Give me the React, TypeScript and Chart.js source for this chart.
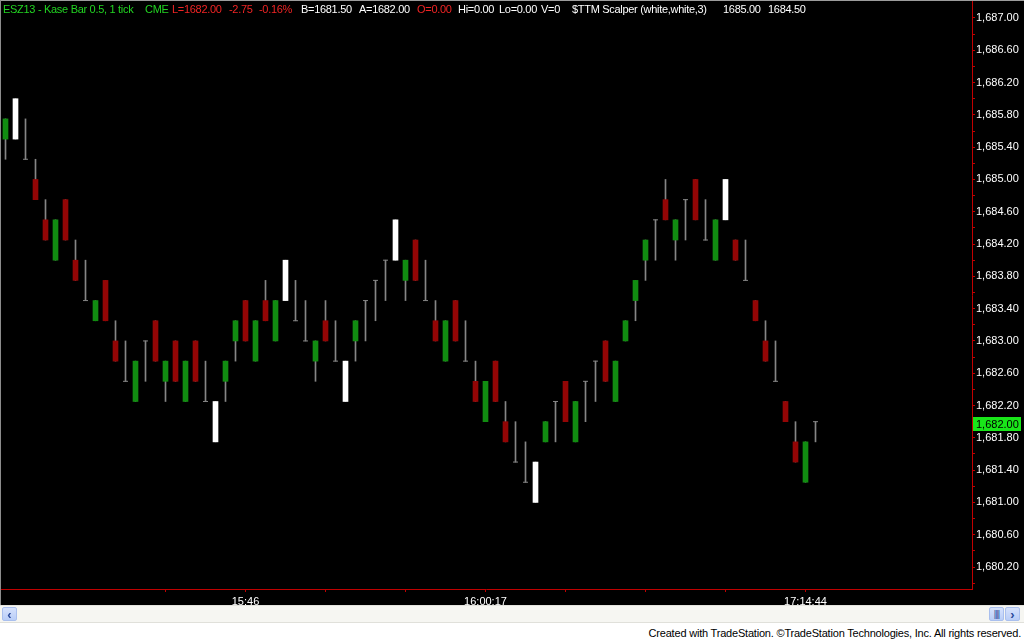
import React, { useEffect, useRef } from "react";
import { Chart, registerables } from "chart.js";

Chart.register(...registerables);

// ---- data (Kase bars, 0.5 range) ----
const opens = [
  1685.5, 1685.5, 1685.25, 1685.0, 1684.5, 1684.0, 1684.75, 1684.0, 1683.5, 1683.25,
  1683.75, 1683.0, 1682.5, 1682.25, 1683.0, 1683.25, 1682.5, 1683.0, 1682.25, 1683.0,
  1682.25, 1682.25, 1682.5, 1683.0, 1683.5, 1682.75, 1683.5, 1683.0, 1683.5, 1683.25,
  1683.0, 1682.75, 1683.25, 1682.75, 1682.75, 1683.0, 1683.5, 1683.75, 1684.0, 1684.0,
  1683.75, 1684.25, 1683.5, 1683.25, 1682.75, 1683.5, 1682.75, 1682.5, 1682.0, 1682.75,
  1682.0, 1681.5, 1681.25, 1681.5, 1681.75, 1682.25, 1682.5, 1681.75, 1682.5, 1682.75,
  1683.0, 1682.25, 1683.0, 1683.5, 1684.0, 1684.5, 1684.75, 1684.25, 1684.75, 1685.0,
  1684.25, 1684.0, 1684.5, 1684.25, 1683.75, 1683.5, 1683.0, 1682.5, 1682.25, 1681.75,
  1681.25, 1682.0,
];
const highs = [
  1685.75, 1686.0, 1685.75, 1685.25, 1684.75, 1684.5, 1684.75, 1684.25, 1684.0, 1683.5,
  1683.75, 1683.25, 1683.0, 1682.75, 1683.0, 1683.25, 1682.75, 1683.0, 1682.75, 1683.0,
  1682.75, 1682.25, 1682.75, 1683.25, 1683.5, 1683.25, 1683.75, 1683.5, 1684.0, 1683.75,
  1683.5, 1683.0, 1683.5, 1683.25, 1682.75, 1683.25, 1683.5, 1683.75, 1684.0, 1684.5,
  1684.0, 1684.25, 1684.0, 1683.5, 1683.25, 1683.5, 1683.25, 1682.75, 1682.5, 1682.75,
  1682.25, 1682.0, 1681.75, 1681.5, 1682.0, 1682.25, 1682.5, 1682.25, 1682.5, 1682.75,
  1683.0, 1682.75, 1683.25, 1683.75, 1684.25, 1684.5, 1685.0, 1684.5, 1684.75, 1685.0,
  1684.75, 1684.5, 1685.0, 1684.25, 1684.25, 1683.5, 1683.25, 1683.0, 1682.25, 1682.0,
  1681.75, 1682.0,
];
const lows = [
  1685.25, 1685.5, 1685.25, 1684.75, 1684.25, 1684.0, 1684.25, 1683.75, 1683.5, 1683.25,
  1683.25, 1682.75, 1682.5, 1682.25, 1682.5, 1682.75, 1682.25, 1682.5, 1682.25, 1682.5,
  1682.25, 1681.75, 1682.25, 1682.75, 1683.0, 1682.75, 1683.25, 1683.0, 1683.5, 1683.25,
  1683.0, 1682.5, 1683.0, 1682.75, 1682.25, 1682.75, 1683.0, 1683.25, 1683.5, 1684.0,
  1683.5, 1683.75, 1683.5, 1683.0, 1682.75, 1683.0, 1682.75, 1682.25, 1682.0, 1682.25,
  1681.75, 1681.5, 1681.25, 1681.0, 1681.75, 1681.75, 1682.0, 1681.75, 1682.0, 1682.25,
  1682.5, 1682.25, 1683.0, 1683.25, 1683.75, 1684.0, 1684.5, 1684.0, 1684.25, 1684.5,
  1684.25, 1684.0, 1684.5, 1684.0, 1683.75, 1683.25, 1682.75, 1682.5, 1682.0, 1681.5,
  1681.25, 1681.75,
];
const closes = [
  1685.75, 1686.0, 1685.25, 1684.75, 1684.25, 1684.5, 1684.25, 1683.75, 1683.5, 1683.5,
  1683.25, 1682.75, 1682.5, 1682.75, 1683.0, 1682.75, 1682.75, 1682.5, 1682.75, 1682.5,
  1682.25, 1681.75, 1682.75, 1683.25, 1683.0, 1683.25, 1683.25, 1683.5, 1684.0, 1683.25,
  1683.0, 1683.0, 1683.0, 1682.75, 1682.25, 1683.25, 1683.5, 1683.75, 1684.0, 1684.5,
  1684.0, 1683.75, 1683.5, 1683.0, 1683.25, 1683.0, 1682.75, 1682.25, 1682.5, 1682.25,
  1681.75, 1681.5, 1681.25, 1681.0, 1682.0, 1682.25, 1682.0, 1682.25, 1682.5, 1682.75,
  1682.5, 1682.75, 1683.25, 1683.75, 1684.25, 1684.5, 1684.5, 1684.5, 1684.75, 1684.5,
  1684.25, 1684.5, 1685.0, 1684.0, 1683.75, 1683.25, 1682.75, 1682.5, 1682.0, 1681.5,
  1681.75, 1682.0,
];
// bars painted white by the $TTM Scalper study (0-based bar index)
const scalperBars = [1, 21, 28, 34, 39, 53, 72];
// time axis: tick marks every 8 bars, labels on some
const timeTickIndex = [16, 24, 32, 40, 48, 56, 64, 72, 80];
const timeTickLabels = ["", "15:46", "", "", "16:00:17", "", "", "", "17:14:44"];
// price axis labels
const priceLabels = [
  1680.2, 1680.6, 1681.0, 1681.4, 1681.8, 1682.2, 1682.6, 1683.0, 1683.4,
  1683.8, 1684.2, 1684.6, 1685.0, 1685.4, 1685.8, 1686.2, 1686.6, 1687.0,
];
const lastPrice = 1682.0;

const FONT = '"Liberation Sans", Arial, sans-serif';
const AXIS_RED = "#c00000";

function fmtPrice(v: number): string {
  const s = v.toFixed(2);
  const [i, d] = s.split(".");
  return i.replace(/\B(?=(\d{3})+(?!\d))/g, ",") + "." + d;
}

const lastPricePlugin = {
  id: "lastPriceBox",
  afterDraw(chart: any) {
    const ctx = chart.ctx;
    const ys = chart.scales.y;
    const y = ys.getPixelForValue(lastPrice) + 2;
    ctx.save();
    ctx.fillStyle = "#19e619";
    ctx.fillRect(973, Math.round(y - 7), 48, 14);
    ctx.fillStyle = "#000";
    ctx.font = "11px " + FONT;
    ctx.textBaseline = "middle";
    ctx.textAlign = "left";
    ctx.fillText(fmtPrice(lastPrice), 976, Math.round(y) + 0.5);
    ctx.restore();
  },
};

export default function App() {
  const ref = useRef<HTMLCanvasElement>(null);

  useEffect(() => {
    if (!ref.current) return;
    const idx = opens.map((_, i) => i);
    const isWhite = (i: number) => scalperBars.includes(i);
    const greenData = idx
      .filter((i) => !isWhite(i) && closes[i] > opens[i])
      .map((i) => ({ x: i, y: [opens[i], closes[i]] }));
    const redData = idx
      .filter((i) => !isWhite(i) && closes[i] < opens[i])
      .map((i) => ({ x: i, y: [opens[i], closes[i]] }));
    const whiteData = idx
      .filter((i) => isWhite(i))
      .map((i) => ({ x: i, y: [lows[i], highs[i]] }));
    const wickData = idx.map((i) => ({ x: i, y: [lows[i], highs[i]] }));
    const dojiData = idx
      .filter((i) => !isWhite(i) && closes[i] === opens[i])
      .map((i) => ({ x: i, y: closes[i] }));

    const tickFont = { family: FONT, size: 11 };
    const topTick = 1687.2;

    const chart = new Chart(ref.current, {
      type: "bar",
      data: {
        datasets: [
          {
            type: "bar",
            data: wickData as any,
            backgroundColor: "#858585",
            barThickness: 1,
            grouped: false,
            borderWidth: 0,
            order: 3,
          },
          {
            type: "bar",
            data: greenData as any,
            backgroundColor: "#118c11",
            barThickness: 5,
            grouped: false,
            borderWidth: 0,
            order: 2,
          },
          {
            type: "bar",
            data: redData as any,
            backgroundColor: "#930505",
            barThickness: 5,
            grouped: false,
            borderWidth: 0,
            order: 2,
          },
          {
            type: "bar",
            data: whiteData as any,
            backgroundColor: "#ffffff",
            barThickness: 5,
            grouped: false,
            borderWidth: 0,
            order: 1,
          },
          {
            type: "line",
            data: dojiData as any,
            showLine: false,
            pointStyle: "line",
            pointRadius: 2.5,
            pointHoverRadius: 2.5,
            pointBorderWidth: 1,
            pointBorderColor: "#858585",
            pointBackgroundColor: "#858585",
            order: 0,
          } as any,
        ],
      },
      options: {
        animation: false,
        responsive: false,
        maintainAspectRatio: false,
        events: [],
        layout: { padding: 0, autoPadding: false },
        plugins: {
          legend: { display: false },
          tooltip: { enabled: false },
          title: { display: false },
        },
        scales: {
          x: {
            type: "linear",
            position: "bottom",
            min: -0.55,
            max: 96.65,
            offset: false,
            afterBuildTicks: (s: any) => {
              s.ticks = timeTickIndex.map((v) => ({ value: v }));
            },
            afterFit: (s: any) => {
              s.height = 16;
            },
            ticks: {
              color: "#ffffff",
              font: tickFont,
              maxRotation: 0,
              minRotation: 0,
              autoSkip: false,
              padding: 3,
              callback: (v: any) => {
                const k = timeTickIndex.indexOf(Number(v));
                return k >= 0 && timeTickLabels[k] ? timeTickLabels[k] : [];
              },
            },
            grid: {
              display: true,
              offset: false,
              drawOnChartArea: false,
              drawTicks: true,
              tickLength: 3,
              color: AXIS_RED,
            },
            border: { display: true, color: AXIS_RED, width: 1 },
          },
          y: {
            type: "linear",
            position: "right",
            min: 1679.9278,
            max: 1687.2102,
            afterBuildTicks: (s: any) => {
              const vals: number[] = [];
              priceLabels.forEach((p) => {
                vals.push(p);
                vals.push(Math.round((p - 0.2) * 100) / 100);
              });
              vals.push(topTick);
              vals.sort((a, b) => a - b);
              s.ticks = vals.map((v) => ({ value: v }));
            },
            afterFit: (s: any) => {
              s.width = 52;
            },
            ticks: {
              color: "#ffffff",
              font: tickFont,
              autoSkip: false,
              padding: 1,
              callback: (v: any) => {
                const n = Number(v);
                return priceLabels.some((p) => Math.abs(p - n) < 1e-6) ? fmtPrice(n) : [];
              },
            },
            grid: {
              display: true,
              drawOnChartArea: false,
              drawTicks: true,
              tickLength: 3,
              color: AXIS_RED,
              tickColor: (c: any) =>
                c.tick && Math.abs(c.tick.value - topTick) < 1e-6 ? "rgba(0,0,0,0)" : AXIS_RED,
            },
            border: { display: true, color: AXIS_RED, width: 1 },
          },
        },
      },
      plugins: [lastPricePlugin],
    } as any);
    return () => chart.destroy();
  }, []);

  const hdr = (text: string, color: string, x: number) => (
    <span
      key={x}
      style={{
        position: "absolute",
        left: x,
        top: 3,
        color,
        whiteSpace: "pre",
        lineHeight: "13px",
        letterSpacing: "-0.3px",
      }}
    >
      {text}
    </span>
  );

  const btn: React.CSSProperties = {
    position: "absolute",
    top: 607,
    width: 15,
    height: 14,
    background: "linear-gradient(#d6e2fd, #b9cdf7)",
    border: "1px solid #a9bfee",
    borderRadius: 2,
    color: "#2b4a9a",
    fontSize: 13,
    fontWeight: "bold",
    lineHeight: "13px",
    textAlign: "center",
    boxSizing: "border-box",
  };

  return (
    <div
      style={{
        position: "absolute",
        left: 0,
        top: 0,
        width: 1024,
        height: 640,
        background: "#ffffff",
        overflow: "hidden",
        fontFamily: FONT,
        fontSize: 11,
      }}
    >
      <canvas
        ref={ref}
        width={1024}
        height={605}
        style={{ position: "absolute", left: 0, top: 0, background: "#000", display: "block" }}
      />
      {/* window frame lines */}
      <div style={{ position: "absolute", left: 0, top: 0, width: 1024, height: 1, background: "#9c9c9c" }} />
      <div style={{ position: "absolute", left: 0, top: 0, width: 1, height: 605, background: "#8c8c8c" }} />
      {/* header */}
      {hdr("ESZ13 - Kase Bar 0.5, 1 tick", "#22d422", 3)}
      {hdr("CME", "#22d422", 145)}
      {hdr("L=1682.00", "#f02424", 172)}
      {hdr("-2.75", "#f02424", 229)}
      {hdr("-0.16%", "#f02424", 259)}
      {hdr("B=1681.50", "#ffffff", 301)}
      {hdr("A=1682.00", "#ffffff", 359)}
      {hdr("O=0.00", "#f02424", 417)}
      {hdr("Hi=0.00", "#ffffff", 458)}
      {hdr("Lo=0.00", "#ffffff", 499)}
      {hdr("V=0", "#ffffff", 541)}
      {hdr("$TTM Scalper (white,white,3)", "#ffffff", 572)}
      {hdr("1685.00", "#ffffff", 723)}
      {hdr("1684.50", "#ffffff", 768)}
      {/* scroll bar */}
      <div
        style={{
          position: "absolute",
          left: 0,
          top: 605,
          width: 1024,
          height: 18,
          background: "#f6f6f2",
          borderTop: "1px solid #e4e4de",
          borderBottom: "1px solid #e0e0da",
          boxSizing: "border-box",
        }}
      />
      <div style={{ ...btn, left: 2 }}>‹</div>
      <div style={{ ...btn, left: 989, fontSize: 9, fontWeight: "normal", letterSpacing: -1 }}>||||</div>
      <div style={{ ...btn, left: 1005 }}>›</div>
      {/* footer */}
      <div
        style={{
          position: "absolute",
          right: 3,
          top: 627,
          color: "#000",
          fontSize: 11,
          letterSpacing: "-0.2px",
          lineHeight: "12px",
          whiteSpace: "pre",
        }}
      >
        Created with TradeStation. ©TradeStation Technologies, Inc. All rights reserved.
      </div>
    </div>
  );
}
